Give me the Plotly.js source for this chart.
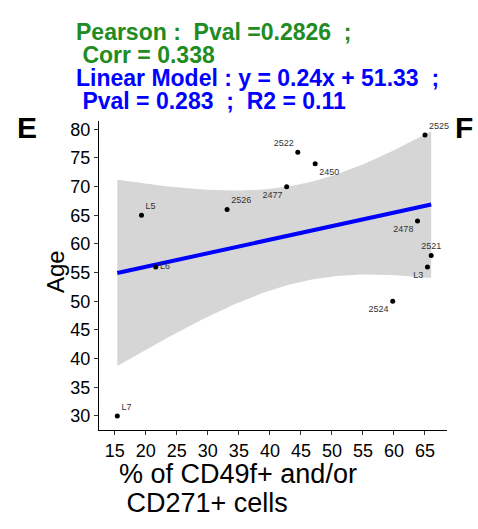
<!DOCTYPE html>
<html>
<head>
<meta charset="utf-8">
<script src="https://cdn.plot.ly/plotly-3.0.1.min.js"></script>
<style>html,body{margin:0;padding:0;background:#fff;}#chart{width:478px;height:529px;}</style>
</head>
<body>
<div id="chart"></div>
<script>
// Data
const sampleLabels = ["L7", "L5", "L6", "2526", "2477", "2522", "2450", "2525", "2478", "2521", "L3", "2524"];
const pctCells = [15.4, 19.3, 21.6, 33.1, 42.7, 44.5, 47.3, 65.0, 63.8, 66.0, 65.4, 59.8];
const ageValues = [30, 65, 56, 66, 70, 76, 74, 79, 64, 58, 56, 50];
const labelPositions = ["top right", "top right", "middle right", "top right", "bottom left", "top left",
  "bottom right", "top right", "bottom left", "top center", "bottom left", "bottom left"];
const xTicks = [15, 20, 25, 30, 35, 40, 45, 50, 55, 60, 65];
const yTicks = [30, 35, 40, 45, 50, 55, 60, 65, 70, 75, 80];

// Linear fit with 95% confidence band (as geom_smooth(method="lm"))
const n = pctCells.length;
const mx = pctCells.reduce((a, b) => a + b, 0) / n;
const my = ageValues.reduce((a, b) => a + b, 0) / n;
let sxx = 0, sxy = 0;
for (let i = 0; i < n; i++) { sxx += (pctCells[i] - mx) ** 2; sxy += (pctCells[i] - mx) * (ageValues[i] - my); }
const slope = sxy / sxx, intercept = my - slope * mx;
let sse = 0;
for (let i = 0; i < n; i++) { sse += (ageValues[i] - (intercept + slope * pctCells[i])) ** 2; }
const s = Math.sqrt(sse / (n - 2));
const tcrit = 2.228; // t(0.975, df=10)
const xmin = Math.min(...pctCells), xmax = Math.max(...pctCells);
const fx = [], fy = [], lo = [], hi = [];
for (let k = 0; k <= 80; k++) {
  const x = xmin + (xmax - xmin) * k / 80;
  const y = intercept + slope * x;
  const se = s * Math.sqrt(1 / n + (x - mx) ** 2 / sxx);
  fx.push(x); fy.push(y); lo.push(y - tcrit * se); hi.push(y + tcrit * se);
}

const traces = [
  {x: fx.concat(fx.slice().reverse()), y: hi.concat(lo.slice().reverse()), type: 'scatter', mode: 'lines',
   fill: 'toself', fillcolor: '#d6d6d6', line: {width: 0, color: 'rgba(0,0,0,0)'}, hoverinfo: 'skip', showlegend: false},
  {x: fx, y: fy, type: 'scatter', mode: 'lines', line: {color: '#0000ff', width: 4}, showlegend: false},
  {x: pctCells, y: ageValues, type: 'scatter', mode: 'markers+text', text: sampleLabels,
   textposition: labelPositions, textfont: {family: 'Liberation Sans, Arial', size: 9, color: '#333333'},
   marker: {color: '#000000', size: 5}, showlegend: false, cliponaxis: false}
];

const PX = v => (v - 99) / 348;
const PY = v => (430 - v) / 309;
const tf = {family: 'Liberation Sans, Arial', size: 23, color: '#228b22'};
const tfb = {family: 'Liberation Sans, Arial', size: 23, color: '#0000ff'};
const xtf = {family: 'Liberation Sans, Arial', size: 27, color: '#000'};

const layout = {
  width: 478, height: 529,
  margin: {l: 99, r: 31, t: 121, b: 99},
  paper_bgcolor: '#ffffff', plot_bgcolor: '#ffffff',
  showlegend: false,
  xaxis: {range: [12.45, 68.55], tickvals: xTicks, ticktext: xTicks.map(String), showgrid: false, zeroline: false,
    showline: true, linecolor: '#000', linewidth: 1, ticks: 'outside', ticklen: 4, tickcolor: '#333',
    tickfont: {family: 'Liberation Sans, Arial', size: 18, color: '#000'}},
  yaxis: {range: [27.55, 81.45], tickvals: yTicks, ticktext: yTicks.map(String), showgrid: false, zeroline: false,
    showline: true, linecolor: '#000', linewidth: 1, ticks: 'outside', ticklen: 4, tickcolor: '#333',
    tickfont: {family: 'Liberation Sans, Arial', size: 18, color: '#000'}},
  annotations: [
    {xref: 'paper', yref: 'paper', x: PX(74), y: PY(32), xanchor: 'left', yanchor: 'middle', showarrow: false,
     text: '<b>Pearson :\u00a0\u00a0Pval =0.2826\u00a0\u00a0;</b>', font: tf},
    {xref: 'paper', yref: 'paper', x: PX(74), y: PY(55), xanchor: 'left', yanchor: 'middle', showarrow: false,
     text: '<b>\u00a0Corr = 0.338</b>', font: tf},
    {xref: 'paper', yref: 'paper', x: PX(74), y: PY(77.5), xanchor: 'left', yanchor: 'middle', showarrow: false,
     text: '<b>Linear Model : y = 0.24x + 51.33\u00a0\u00a0;</b>', font: tfb},
    {xref: 'paper', yref: 'paper', x: PX(74), y: PY(101), xanchor: 'left', yanchor: 'middle', showarrow: false,
     text: '<b>\u00a0Pval = 0.283\u00a0\u00a0;\u00a0\u00a0R2 = 0.11</b>', font: tfb},
    {xref: 'paper', yref: 'paper', x: PX(27), y: PY(127), xanchor: 'center', yanchor: 'middle', showarrow: false,
     text: '<b>E</b>', font: {family: 'Liberation Sans, Arial', size: 30, color: '#000'}},
    {xref: 'paper', yref: 'paper', x: PX(464), y: PY(127), xanchor: 'center', yanchor: 'middle', showarrow: false,
     text: '<b>F</b>', font: {family: 'Liberation Sans, Arial', size: 30, color: '#000'}},
    {xref: 'paper', yref: 'paper', x: PX(55), y: PY(271), xanchor: 'center', yanchor: 'middle', showarrow: false,
     textangle: -90, text: 'Age', font: {family: 'Liberation Sans, Arial', size: 24, color: '#000'}},
    {xref: 'paper', yref: 'paper', x: PX(117), y: PY(474), xanchor: 'left', yanchor: 'middle', showarrow: false,
     text: '% of CD49f+ and/or', font: xtf},
    {xref: 'paper', yref: 'paper', x: PX(117), y: PY(503), xanchor: 'left', yanchor: 'middle', showarrow: false,
     text: '\u00a0CD271+ cells', font: xtf}
  ]
};

Plotly.newPlot('chart', traces, layout, {displayModeBar: false, staticPlot: true});
</script>
</body>
</html>
